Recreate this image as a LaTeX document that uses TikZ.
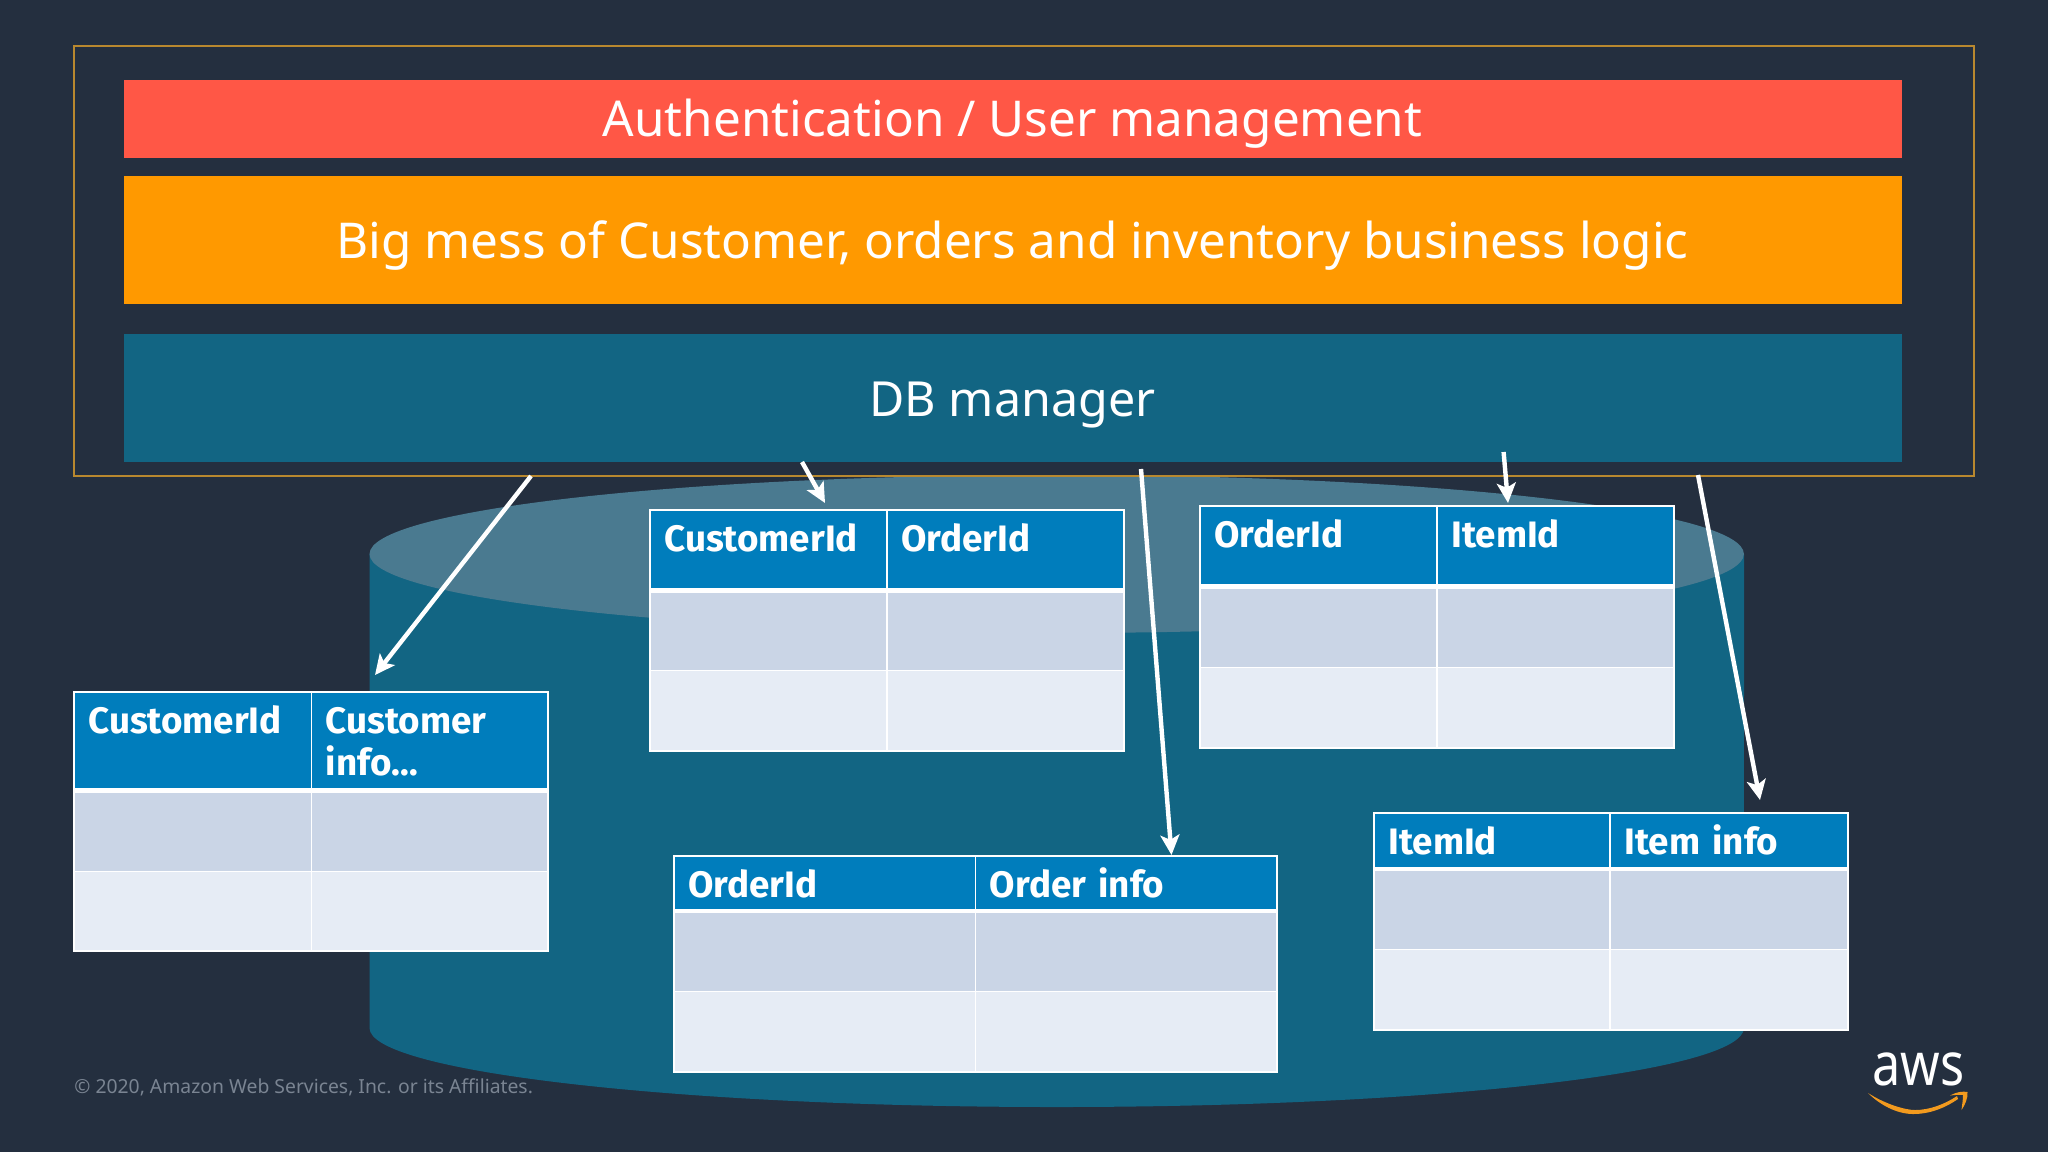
\documentclass[tikz,border=0pt]{standalone}
\usepackage{fontspec}
\setmainfont{Noto Sans}
\newfontfamily\headfont{Fira Sans}
\usetikzlibrary{arrows.meta}
\definecolor{bgc}{HTML}{242F3F}
\definecolor{framec}{HTML}{B8882F}
\definecolor{redc}{HTML}{FF5746}
\definecolor{orangec}{HTML}{FF9900}
\definecolor{tealc}{HTML}{126583}
\definecolor{lidc}{HTML}{4A7A90}
\definecolor{headc}{HTML}{007DBC}
\definecolor{rowa}{HTML}{CAD5E6}
\definecolor{rowb}{HTML}{E6ECF5}
\definecolor{footc}{HTML}{7A8492}
\definecolor{swoosh}{HTML}{F29A1E}
\tikzset{
  barbox/.style={inner sep=0pt,outer sep=0pt,minimum width=889pt},
  bartext/.style={inner sep=0pt,text=white,font=\fontsize{24.7}{28}\selectfont},
  headtext/.style={anchor=base west,inner sep=0pt,text=white,text width=100pt,align=left,font=\headfont\fontsize{18.4}{21}\selectfont\bfseries},
  arrowline/.style={draw=white,line width=2.2pt,-{Stealth[length=10pt,width=9.5pt,inset=2.4pt]}},
  tline/.style={draw=white,line width=0.8pt},
  sepline/.style={draw=white,line width=0.5pt}
}
% name, x0, xm, x1, ytop, yhb, yband, ysep, ybot, text1, text2
\newcommand{\dbtable}[9]{%
  \def\tn{#1}\def\xa{#2}\def\xb{#3}\def\xc{#4}\def\ya{#5}\def\yb{#6}\def\yc{#7}\def\yd{#8}\def\ye{#9}\dbtablerest}
\newcommand{\dbtablerest}[2]{%
  \fill[headc] (\xa,\ya) rectangle (\xc,\yb);
  \fill[white] (\xa,\yb) rectangle (\xc,\yc);
  \fill[rowa] (\xa,\yc) rectangle (\xc,\yd);
  \fill[rowb] (\xa,\yd) rectangle (\xc,\ye);
  \draw[sepline] (\xa,\yd) -- (\xc,\yd);
  \draw[tline] (\xb,\ya) -- (\xb,\ye);
  \draw[tline] (\xa,\ya) rectangle (\xc,\ye);
  \node[headtext] (\tn a) at (\xa+14,\ya+41) {#1};
  \node[headtext] (\tn b) at (\xb+14,\ya+41) {#2};
}
\begin{document}
\begin{tikzpicture}[x=0.5pt,y=-0.5pt]
\useasboundingbox (0,0) rectangle (2048,1152);
\fill[bgc] (0,0) rectangle (2048,1152);
% cylinder
\fill[tealc] (369.5,554) -- (369.5,1028) arc[start angle=180,end angle=360,x radius=687.2,y radius=-79] -- (1744,554) -- cycle;
\fill[lidc] (1056.7,554) ellipse[x radius=687.2,y radius=79];
% frame and bars
\draw[framec,line width=0.8pt] (74,46) rectangle (1974,476);
\node[barbox,fill=redc,minimum height=39pt] (auth) at (1012.5,119) {};
\node[barbox,fill=orangec,minimum height=64pt] (logic) at (1012.5,240) {};
\node[barbox,fill=tealc,minimum height=64pt] (dbm) at (1012.5,398) {};
\node[bartext] (authtext) at (1012.5,123.5) {Authentication / User management};
\node[bartext] (logictext) at (1012.5,245.5) {Big mess of Customer, orders and inventory business logic};
\node[bartext,font=\fontsize{24.2}{28}\selectfont] (dbmtext) at (1012.5,405) {DB manager};
% tables
\dbtable{t}{74}{311.5}{548}{692}{788}{793}{871}{951}{CustomerId}{Customer\\info…}
\dbtable{u}{650}{887}{1124}{510}{588}{593}{670}{751}{CustomerId}{OrderId}
\dbtable{v}{1200}{1437}{1674}{506}{584}{589}{667}{748}{OrderId}{ItemId}
\dbtable{w}{674}{975.5}{1277}{856}{909}{913}{991}{1072}{OrderId}{Order info}
\dbtable{z}{1374}{1610}{1848}{813}{867}{871}{949.5}{1030}{ItemId}{Item info}
% arrows
\coordinate (a1s) at (531,476); \coordinate (a1e) at (375,675);
\coordinate (a2s) at (802,462); \coordinate (a2e) at (825,503);
\coordinate (a3s) at (1141,469); \coordinate (a3e) at (1171.5,855);
\coordinate (a4s) at (1503.6,452); \coordinate (a4e) at (1508,503);
\coordinate (a5s) at (1698,475); \coordinate (a5e) at (1760,800);
\draw[arrowline] (a1s) -- (a1e);
\draw[arrowline] (a2s) -- (a2e);
\draw[arrowline] (a3s) -- (a3e);
\draw[arrowline] (a4s) -- (a4e);
\draw[arrowline] (a5s) -- (a5e);
% footer
\node[anchor=base west,inner sep=0pt,text=footc,font=\fontsize{9.67}{11}\selectfont] (foot) at (74,1093) {© 2020, Amazon Web Services, Inc. or its Affiliates.};
% logo
\node[anchor=base,inner sep=0pt,text=white,xscale=.84,transform shape,font=\fontsize{30}{34}\selectfont] (aws) at (1918.5,1085) {aws};
\fill[swoosh] (1868,1093) .. controls (1885,1104) and (1905,1110) .. (1915,1110) .. controls (1930,1110) and (1945,1104) .. (1957,1096) -- (1958,1099) .. controls (1945,1108) and (1930,1114) .. (1913,1114) .. controls (1897,1114) and (1880,1105) .. (1868,1093) -- cycle;
\fill[swoosh] (1950,1095.5) .. controls (1956,1092) and (1963,1091) .. (1967.5,1092) .. controls (1968,1098) and (1965,1105) .. (1961.5,1110) .. controls (1962,1105) and (1963,1100) .. (1963,1095) .. controls (1959,1094.5) and (1955,1095) .. (1950,1095.5) -- cycle;
\end{tikzpicture}
\end{document}
